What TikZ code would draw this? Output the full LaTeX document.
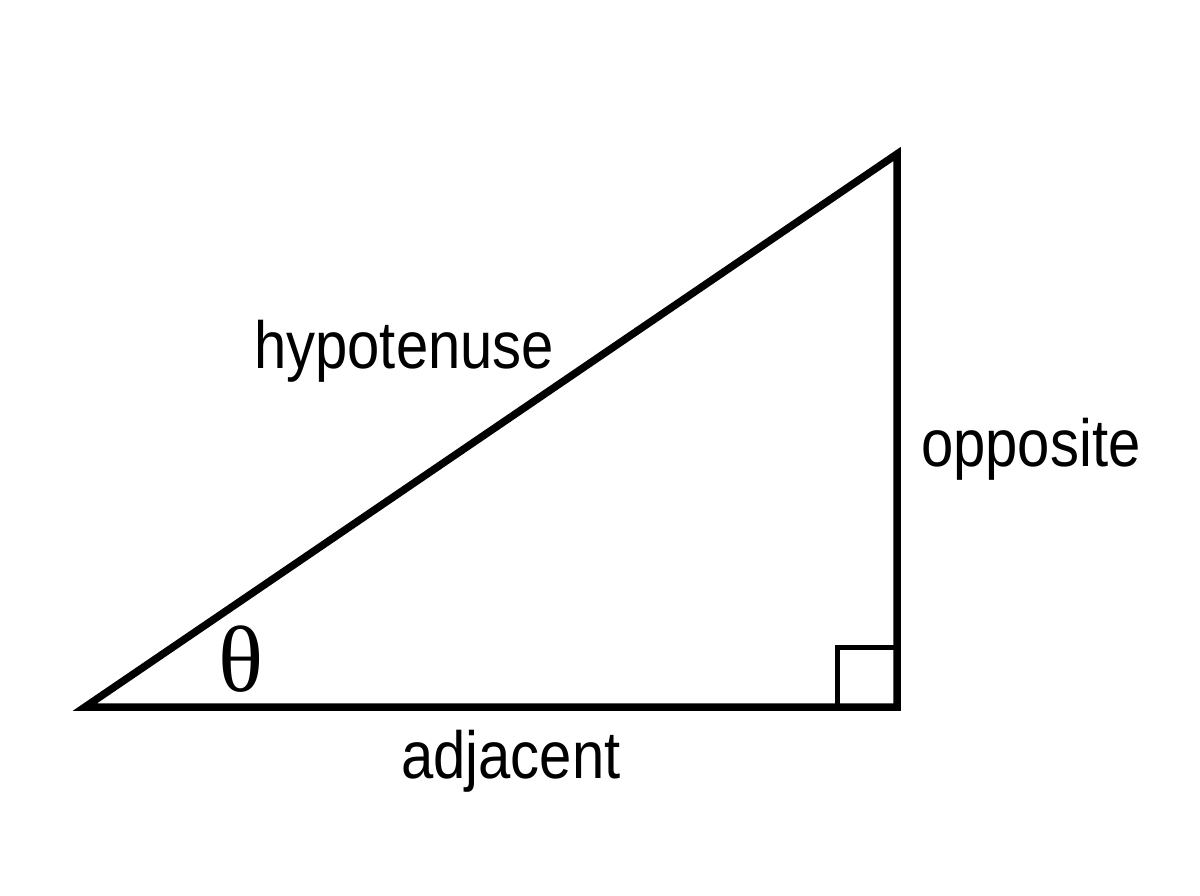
\documentclass[tikz,border=0pt]{standalone}
\usepackage{fontspec}
\usepackage{graphicx}
\setmainfont{Liberation Sans}
\newfontfamily\thetafont{Liberation Serif}
\newcommand{\tallt}[1]{\scalebox{1}[1.15]{#1}}
\begin{document}
\begin{tikzpicture}[x=1pt,y=-1pt,
  side/.style={line width=7.5pt, line join=miter},
  rightmark/.style={line width=5pt},
  lbl/.style={inner sep=0pt, anchor=base west, font=\fontsize{58}{70}\selectfont}
]
\useasboundingbox[fill=white] (0,0) rectangle (1200,896);
\coordinate (A) at (85,707);
\coordinate (B) at (897,707);
\coordinate (C) at (897,154);
\draw[side] (A) -- (B) -- (C) -- cycle;
\draw[rightmark] (837,707) -- (837,647) -- (897,647);
\node[lbl] (hyp) at (254,368) {\tallt{hypotenuse}};
\node[lbl] (opp) at (921,466) {\tallt{opposite}};
\node[lbl] (adj) at (401,778) {\tallt{adjacent}};
\node[inner sep=0pt, anchor=base, font=\thetafont\fontsize{94}{100}\selectfont] (theta) at (241,691) {θ};
\end{tikzpicture}
\end{document}
